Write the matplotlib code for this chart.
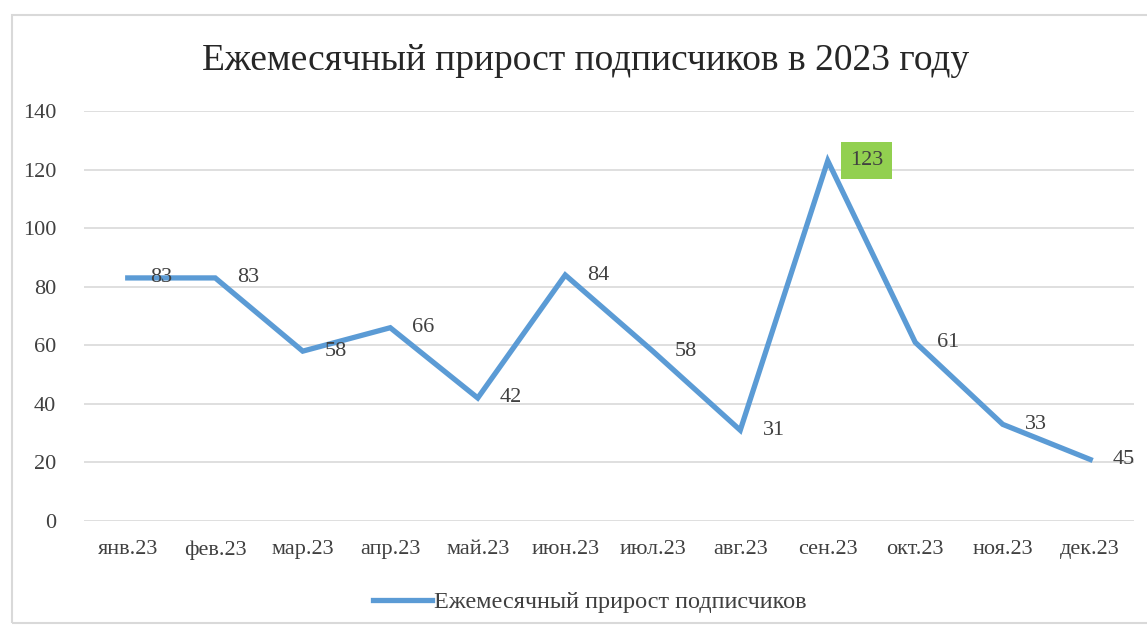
import matplotlib.pyplot as plt
from matplotlib.patches import Rectangle

# Данные
months = ["янв.23", "фев.23", "мар.23", "апр.23", "май.23", "июн.23",
          "июл.23", "авг.23", "сен.23", "окт.23", "ноя.23", "дек.23"]
values = [83, 83, 58, 66, 42, 84, 58, 31, 123, 61, 33, 21]
labels = ["83", "83", "58", "66", "42", "84", "58", "31", "123", "61", "33", "45"]

W, H = 1147, 632
plt.rcParams['font.family'] = ['Liberation Serif', 'DejaVu Serif']

fig = plt.figure(figsize=(W / 100, H / 100), dpi=100)

# рамка диаграммы
fig.patches.append(Rectangle((12 / W, 1 - 623 / H), 1.2, (623 - 15) / H,
                             transform=fig.transFigure, fill=False,
                             edgecolor='#D9D9D9', linewidth=1.5))

ax = fig.add_axes([84 / W, 1 - 521 / H, (1134 - 84) / W, (521 - 111) / H])
x = list(range(len(months)))
ax.plot(x, values, color='#5B9BD5', linewidth=3.8, solid_joinstyle='miter',
        label='Ежемесячный прирост подписчиков', zorder=3)

for i, (v, t) in enumerate(zip(values, labels)):
    if i == 8:
        ax.annotate(t, (i, v), xytext=(16, 0), textcoords='offset points',
                    ha='left', va='center', fontsize=16, color='#404040',
                    bbox=dict(boxstyle='square,pad=0.4', fc='#92D050', ec='none'),
                    zorder=4)
    else:
        ax.annotate(t, (i, v), xytext=(16, 0), textcoords='offset points',
                    ha='left', va='center', fontsize=16, color='#404040', zorder=4)

ax.set_xlim(-0.5, 11.5)
ax.set_ylim(0, 140)
ax.set_yticks(range(0, 141, 20))
ax.set_xticks(x)
ax.set_xticklabels(months)
ax.grid(axis='y', color='#D9D9D9', linewidth=1.2)
ax.set_axisbelow(True)
for s in ax.spines.values():
    s.set_visible(False)
ax.tick_params(length=0, labelsize=16, labelcolor='#404040')
ax.tick_params(axis='x', pad=14)
ax.tick_params(axis='y', pad=20)

fig.text(586 / W, 1 - 61 / H, 'Ежемесячный прирост подписчиков в 2023 году',
         ha='center', va='center', fontsize=27, color='#262626')

fig.legend(loc='center', bbox_to_anchor=(590 / W, 1 - 602 / H), frameon=False,
           fontsize=17.5, handlelength=2.4, handletextpad=0.1,
           labelcolor='#404040')

fig.savefig('out.png', dpi=100)
